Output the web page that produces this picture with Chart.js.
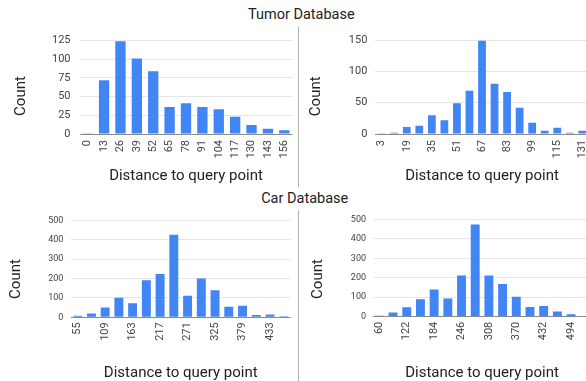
<!DOCTYPE html>
<html><head><meta charset="utf-8">
<script src="https://cdn.jsdelivr.net/npm/chart.js@4.4.1/dist/chart.umd.min.js"></script>
<style>
html,body{margin:0;padding:0;width:586px;height:381px;overflow:hidden;background:#fff;position:relative;font-family:Roboto}
.box{position:absolute}
.box canvas{display:block}
.title{position:absolute;left:0;font-family:Roboto;font-size:14.5px;line-height:14.5px;color:#222;white-space:nowrap;text-align:center}
.sep{position:absolute;left:298px;width:1px;background:#b0b0b0}
</style></head><body>
<div class="title" style="top:7.8px;width:602.6px">Tumor Database</div>
<div class="title" style="top:191.8px;width:609.4px">Car Database</div>
<div class="sep" style="top:27px;height:160px"></div>
<div class="sep" style="top:210px;height:171px"></div>
<div class="box" style="left:0;top:25px"><canvas id="c1" width="298" height="165"></canvas></div>
<div class="box" style="left:299px;top:25px"><canvas id="c2" width="292" height="165"></canvas></div>
<div class="box" style="left:0;top:205px"><canvas id="c3" width="298" height="190"></canvas></div>
<div class="box" style="left:299px;top:205px"><canvas id="c4" width="296" height="190"></canvas></div>
<script>
// ---- data ----
const tumorLeftDistances = ['0','13','26','39','52','65','78','91','104','117','130','143','156'];
const tumorLeftCounts = [1,72,124,101,84,36,41,36,33,23,12,7,5];

const tumorRightDistances = ['3','11','19','27','35','43','51','59','67','75','83','91','99','107','115','123','131'];
const tumorRightCounts = [1,2,11,13,30,22,49,69,149,80,67,42,18,5,10,2,5];

const carLeftDistances = ['55','82','109','136','163','190','217','244','271','298','325','352','379','406','433','460'];
const carLeftCounts = [8,20,51,101,72,192,224,426,111,200,140,55,60,12,15,5];

const carRightDistances = ['60','91','122','153','184','215','246','277','308','339','370','401','432','463','494','525'];
const carRightCounts = [5,22,48,89,139,94,212,473,212,168,103,50,55,27,12,2];

const tumorLeftTicks = [0,25,50,75,100,125];
const tumorRightTicks = [0,50,100,150];
const carTicks = [0,100,200,300,400,500];

const X_TITLE = 'Distance to query point';
const Y_TITLE = 'Count';

// ---- drawing ----
const yTitlePlugin = {
  id: 'yTitle',
  afterDraw(chart, args, o) {
    const ctx = chart.ctx;
    ctx.save();
    ctx.translate(o.x, o.y);
    ctx.rotate(-Math.PI / 2);
    ctx.font = '15px Roboto';
    ctx.fillStyle = '#222';
    ctx.textAlign = 'center';
    ctx.textBaseline = 'middle';
    ctx.fillText(o.text, 0, 0);
    ctx.restore();
  }
};

function makeChart(id, cats, vals, yTicks, p) {
  const ymax = yTicks[yTicks.length - 1];
  const step = yTicks[1] - yTicks[0];
  return new Chart(document.getElementById(id), {
    type: 'bar',
    data: {
      labels: cats,
      datasets: [{ data: vals, backgroundColor: '#4285F4', borderWidth: 0,
        barPercentage: p.bp, categoryPercentage: 1 }]
    },
    plugins: [yTitlePlugin],
    options: {
      responsive: false, animation: false, devicePixelRatio: 1,
      layout: { padding: { left: 0, right: p.pr, top: p.pt, bottom: 0 } },
      plugins: {
        legend: { display: false }, tooltip: { enabled: false },
        yTitle: { x: p.tx, y: p.ty, text: Y_TITLE }
      },
      scales: {
        x: {
          grid: { display: false, drawTicks: false }, border: { display: false },
          ticks: {
            autoSkip: false, minRotation: 90, maxRotation: 90, padding: p.xpad,
            font: { family: 'Roboto', size: p.xfs }, color: '#444',
            callback: (v, i) => (p.every && i % 2 !== 0) ? '' : cats[i]
          },
          title: { display: true, text: X_TITLE, color: '#222',
            font: { family: 'Roboto', size: 15 }, padding: { top: 0, bottom: p.tpb } },
          afterFit: (s) => { s.height = p.xh; s.paddingLeft = 0; s.paddingRight = 0; }
        },
        y: {
          min: 0, max: ymax,
          ticks: { stepSize: step, padding: p.ypad, color: '#444',
            font: { family: 'Roboto', size: p.yfs } },
          grid: { drawTicks: false, color: (c) => c.tick && c.tick.value === 0 ? '#8a8a8a' : '#e6e6e6' },
          border: { display: false },
          afterFit: (s) => { s.width = p.yw; }
        }
      }
    }
  });
}

makeChart('c1', tumorLeftDistances, tumorLeftCounts, tumorLeftTicks,
  { bp: 0.63, pr: 5.5, pt: 15, xh: 56, yw: 79.5, tpb: 5, xpad: 6, ypad: 9, xfs: 11, yfs: 11, every: false, tx: 20.8, ty: 71 });
makeChart('c2', tumorRightDistances, tumorRightCounts, tumorRightTicks,
  { bp: 0.62, pr: 2.4, pt: 15, xh: 56, yw: 76.4, tpb: 5, xpad: 6, ypad: 8, xfs: 11, yfs: 11, every: true, tx: 17.7, ty: 71.3 });
makeChart('c3', carLeftDistances, carLeftCounts, carTicks,
  { bp: 0.65, pr: 7.4, pt: 15.5, xh: 77.7, yw: 70.8, tpb: 13, xpad: 5, ypad: 7.5, xfs: 11, yfs: 9, every: true, tx: 16.7, ty: 74 });
makeChart('c4', carRightDistances, carRightCounts, carTicks,
  { bp: 0.65, pr: 3.4, pt: 14.3, xh: 78.3, yw: 73.5, tpb: 13, xpad: 5, ypad: 6.5, xfs: 11, yfs: 9, every: true, tx: 19.7, ty: 74 });
</script>
</body></html>
